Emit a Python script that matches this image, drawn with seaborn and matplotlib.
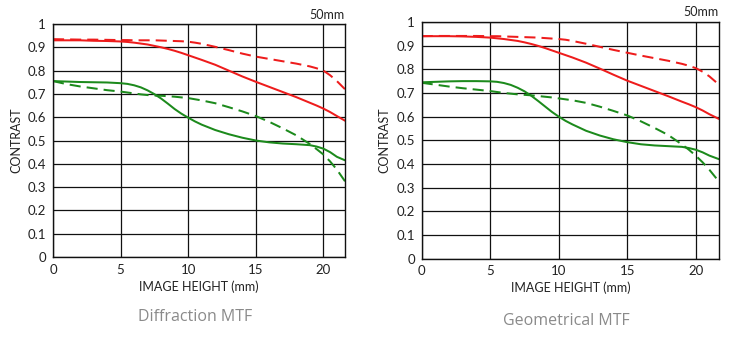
import numpy as np
import pandas as pd
import matplotlib
matplotlib.use("Agg")
import matplotlib.pyplot as plt
import seaborn as sns

# ---- data ----
x_diff = [0,1,2,3,4,5,5.5,6,6.5,7,7.5,8,8.5,9,9.5,10,10.5,11,12,13,14,15,16,17,18,19,19.5,20,20.5,21,21.6]
diff_red_solid = [.930,.930,.930,.928,.927,.925,.923,.920,.916,.912,.906,.900,.893,.885,.876,.866,.856,.846,.825,.800,.775,.752,.730,.708,.686,.662,.650,.637,.622,.605,.585]
diff_red_dash = [.935,.934,.933,.933,.932,.931,.931,.930,.930,.930,.930,.929,.928,.927,.926,.924,.920,.915,.902,.888,.873,.860,.850,.840,.830,.818,.810,.800,.780,.755,.720]
diff_green_solid = [.755,.753,.751,.750,.749,.746,.743,.737,.728,.715,.699,.680,.658,.635,.615,.598,.582,.568,.545,.527,.512,.500,.492,.487,.484,.480,.474,.465,.450,.430,.415]
diff_green_dash = [.755,.742,.732,.724,.716,.710,.706,.702,.698,.695,.693,.692,.690,.688,.685,.682,.677,.672,.660,.643,.625,.605,.580,.552,.522,.485,.463,.440,.410,.375,.325]

x_geom = [0,1,2,3,4,5,5.5,6,6.5,7,7.5,8,8.5,9,9.5,10,10.5,11,12,13,14,15,16,17,18,19,19.5,20,20.5,21,21.7]
geom_red_solid = [.940,.940,.940,.939,.937,.934,.931,.928,.924,.920,.914,.907,.899,.890,.880,.870,.860,.850,.828,.803,.777,.752,.730,.708,.686,.663,.652,.640,.626,.610,.590]
geom_red_dash = [.940,.941,.941,.941,.941,.940,.940,.939,.938,.937,.936,.935,.934,.932,.930,.928,.925,.920,.908,.895,.882,.870,.858,.847,.836,.823,.815,.805,.790,.770,.735]
geom_green_solid = [.745,.747,.749,.750,.750,.749,.747,.742,.734,.722,.707,.688,.666,.643,.620,.600,.582,.567,.540,.520,.504,.492,.483,.478,.475,.472,.467,.460,.449,.435,.420]
geom_green_dash = [.743,.735,.727,.720,.714,.708,.704,.700,.697,.694,.692,.690,.687,.684,.681,.677,.673,.669,.658,.642,.624,.605,.580,.552,.522,.482,.460,.435,.407,.375,.325]

x_ticks = [0, 5, 10, 15, 20]
y_ticks = [0, 0.1, 0.2, 0.3, 0.4, 0.5, 0.6, 0.7, 0.8, 0.9, 1]
y_labels = ["0", "0.1", "0.2", "0.3", "0.4", "0.5", "0.6", "0.7", "0.8", "0.9", "1"]
captions = ["Diffraction MTF", "Geometrical MTF"]
focal = "50mm"

RED = "#ee1c1c"
GREEN = "#1c8a1c"

sns.set_theme(style="white")
plt.rcParams["font.family"] = ["Lato", "DejaVu Sans"]

fig = plt.figure(figsize=(7.45, 3.43), dpi=100)
W, H = 745, 343
boxes = [(53, 24, 345, 257), (421.7, 22, 719, 258.5)]
cap_y = [317, 321]
panels = [
    (x_diff, diff_red_solid, diff_red_dash, diff_green_solid, diff_green_dash),
    (x_geom, geom_red_solid, geom_red_dash, geom_green_solid, geom_green_dash),
]

for (l, t, r, b), (xs, rs, rd, gs, gd), cap, cy in zip(boxes, panels, captions, cap_y):
    ax = fig.add_axes([l / W, 1 - b / H, (r - l) / W, (b - t) / H])
    for ys, col, dashed in [(rd, RED, True), (rs, RED, False), (gd, GREEN, True), (gs, GREEN, False)]:
        df = pd.DataFrame({"x": xs, "y": ys})
        sns.lineplot(data=df, x="x", y="y", ax=ax, color=col, linewidth=1.45,
                     legend=False)
        ln = ax.lines[-1]
        if dashed:
            ln.set_dashes((5.5, 3))
    ax.set_xlim(0, xs[-1])
    ax.set_ylim(0, 1)
    ax.set_xticks(x_ticks)
    ax.set_yticks(y_ticks)
    ax.set_yticklabels(y_labels)
    ax.grid(True, color="#111111", linewidth=0.9)
    ax.set_axisbelow(True)
    for s in ax.spines.values():
        s.set_color("#111111")
        s.set_linewidth(1.0)
    ax.tick_params(axis="both", length=0, labelsize=9.5, colors="#222222", pad=5)
    ax.set_xlabel("IMAGE HEIGHT (mm)", fontsize=9, color="#222222", labelpad=3)
    ax.set_ylabel("CONTRAST", fontsize=9, color="#222222", labelpad=4)
    ax.text(1.0, 1.015, focal, transform=ax.transAxes, ha="right", va="bottom",
            fontsize=9, color="#222222")
    fig.text(((l + r) / 2 - 4) / W, 1 - cy / H, cap, ha="center", va="center",
             fontsize=11.5, color="#8a8a8a", family=["Open Sans", "DejaVu Sans"])

fig.savefig("out.png", dpi=100, facecolor="white")
